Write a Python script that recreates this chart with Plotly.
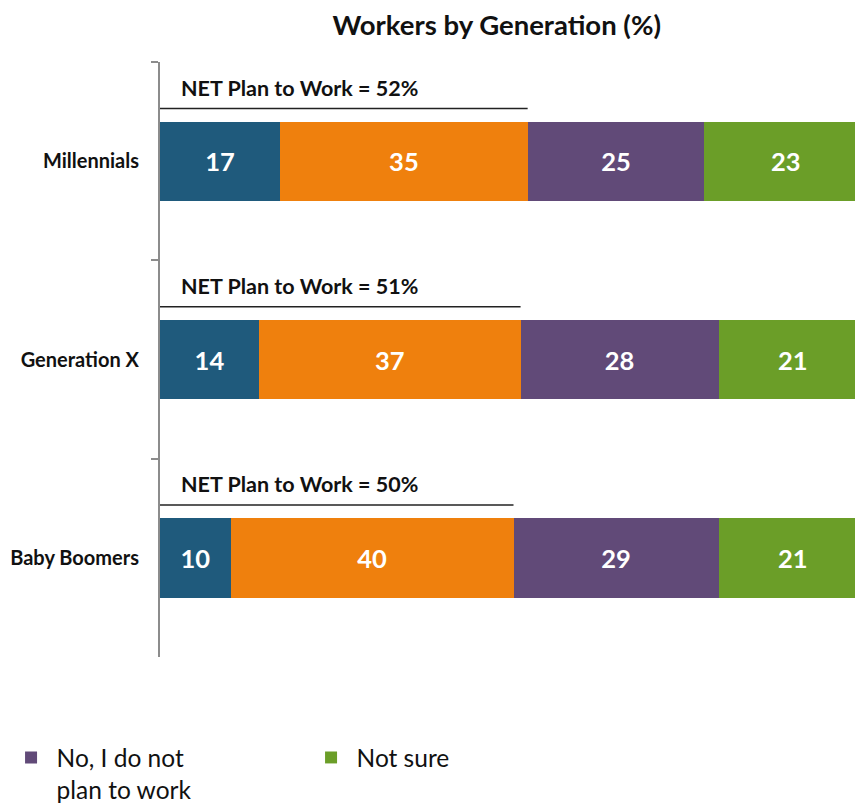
import plotly.graph_objects as go

categories = ["Millennials", "Generation X", "Baby Boomers"]
full_time = [17, 14, 10]
part_time = [35, 37, 40]
no_plan = [25, 28, 29]
not_sure = [23, 21, 21]
net_plan = [52, 51, 50]

series = [
    ("Yes, full-time", full_time, "#1F5A7C", False),
    ("Yes, part-time", part_time, "#EF800D", False),
    ("No, I do not<br>plan to work", no_plan, "#614A78", True),
    ("Not sure", not_sure, "#6B9E28", True),
]

FONT = "Lato, 'Open Sans', sans-serif"

fig = go.Figure()
for name, vals, color, show in series:
    fig.add_trace(go.Bar(
        y=categories, x=vals, name=name, orientation="h",
        marker=dict(color=color, line=dict(width=0)),
        text=[str(v) for v in vals], textposition="inside",
        insidetextanchor="middle",
        textfont=dict(family=FONT, size=25.5, color="white", weight="bold"),
        width=0.4, showlegend=show, cliponaxis=True,
    ))

for i, (cat, net) in enumerate(zip(categories, net_plan)):
    fig.add_shape(type="line", xref="x", yref="y",
                  x0=0, x1=net, y0=i - 0.266, y1=i - 0.266,
                  line=dict(color="#222222", width=1.5))
    fig.add_annotation(xref="x", yref="y", x=2.7, y=i - 0.37,
                       text=f"<b>NET Plan to Work = {net}%</b>",
                       showarrow=False, xanchor="left", yanchor="middle",
                       font=dict(family=FONT, size=21.5, color="#111111"))

fig.update_layout(
    width=855, height=803,
    barmode="stack",
    plot_bgcolor="white", paper_bgcolor="white",
    margin=dict(l=160, r=0, t=62, b=146),
    title=dict(text="<b>Workers by Generation (%)</b>", x=0.581, xanchor="center",
               y=0.969, yanchor="middle",
               font=dict(family=FONT, size=27.5, color="#111111")),
    xaxis=dict(range=[0, 98.3], showgrid=False, showticklabels=False,
               zeroline=False, showline=False, fixedrange=True),
    yaxis=dict(autorange=False, range=[2.5, -0.5], type="category",
               tickson="boundaries", ticks="outside", ticklen=7,
               tickcolor="#8c8c8c", tickwidth=1.5,
               showline=True, linecolor="#8c8c8c", linewidth=2,
               showgrid=False, zeroline=False, fixedrange=True,
               tickfont=dict(family=FONT, size=20, color="#111111", weight="bold"),
               ticklabelstandoff=15),
    legend=dict(orientation="h", xref="container", yref="container",
                x=0.0065, y=1 - 735 / 803, xanchor="left", yanchor="top",
                font=dict(family=FONT, size=24.5, color="#111111"),
                valign="top", entrywidth=244, entrywidthmode="pixels",
                itemwidth=41, traceorder="normal"),
    showlegend=True,
)

fig.write_html(
    "out.html",
    config={"displayModeBar": False},
    post_script="document.body.style.margin='0';document.body.style.overflow='hidden';",
)
